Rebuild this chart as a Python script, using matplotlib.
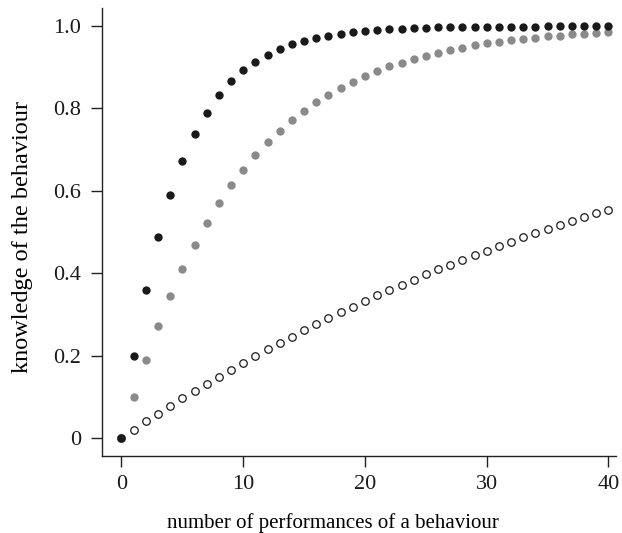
import numpy as np
import matplotlib
matplotlib.use('Agg')
import matplotlib.pyplot as plt

plt.rcParams['font.family'] = ['Liberation Serif', 'DejaVu Serif']

performances = list(range(41))

# fast learner (black)
fast = [0.0, 0.2, 0.36, 0.488, 0.59, 0.672, 0.738, 0.79, 0.832, 0.866,
        0.893, 0.914, 0.931, 0.945, 0.956, 0.965, 0.972, 0.977, 0.982, 0.986,
        0.988, 0.991, 0.993, 0.994, 0.995, 0.996, 0.997, 0.998, 0.998, 0.998,
        0.999, 0.999, 0.999, 0.999, 0.999, 1.0, 1.0, 1.0, 1.0, 1.0, 1.0]
# medium learner (grey)
medium = [0.0, 0.1, 0.19, 0.271, 0.344, 0.41, 0.469, 0.522, 0.57, 0.613,
          0.651, 0.686, 0.718, 0.746, 0.771, 0.794, 0.815, 0.833, 0.85, 0.865,
          0.878, 0.891, 0.902, 0.911, 0.92, 0.928, 0.935, 0.942, 0.948, 0.953,
          0.958, 0.962, 0.966, 0.969, 0.972, 0.975, 0.977, 0.98, 0.982, 0.984, 0.985]
# slow learner (open)
slow = [0.0, 0.02, 0.04, 0.059, 0.078, 0.096, 0.114, 0.132, 0.149, 0.166,
        0.183, 0.199, 0.215, 0.231, 0.246, 0.261, 0.276, 0.291, 0.305, 0.319,
        0.332, 0.346, 0.359, 0.372, 0.384, 0.397, 0.409, 0.42, 0.432, 0.443,
        0.455, 0.465, 0.476, 0.487, 0.497, 0.507, 0.517, 0.526, 0.536, 0.545, 0.554]

fig = plt.figure(figsize=(6.22, 5.33), dpi=100)
ax = fig.add_axes([0.164, 0.1445, 0.826, 0.8405])

ax.plot(performances, slow, 'o', ms=5.4, mfc='white', mec='#1a1a1a', mew=0.9)
ax.plot(performances, medium, 'o', ms=6.0, mfc='#8a8a8a', mec='#8a8a8a', mew=0)
ax.plot(performances, fast, 'o', ms=6.0, mfc='#1a1a1a', mec='#1a1a1a', mew=0)

ax.set_xlim(-1.6, 40.6)
ax.set_ylim(-0.044, 1.044)
ax.set_xticks([0, 10, 20, 30, 40])
ax.set_yticks([0, 0.2, 0.4, 0.6, 0.8, 1.0])
ax.set_yticklabels(['0', '0.2', '0.4', '0.6', '0.8', '1.0'])
for s in ['top', 'right']:
    ax.spines[s].set_visible(False)
for s in ['left', 'bottom']:
    ax.spines[s].set_linewidth(1.0)
    ax.spines[s].set_color('#222222')
ax.tick_params(direction='out', length=8, width=1.0, colors='#222222',
               labelsize=16, labelcolor='#1a1a1a')
ax.tick_params(axis='x', pad=6)
ax.tick_params(axis='y', pad=7)
ax.set_xlabel('number of performances of a behaviour', fontsize=15, va='center')
ax.set_ylabel('knowledge of the behaviour', fontsize=17.5, va='center')
ax.xaxis.set_label_coords(0.449, -0.15)
ax.yaxis.set_label_coords(-0.154, 0.489)

fig.savefig('out.png', dpi=100)
